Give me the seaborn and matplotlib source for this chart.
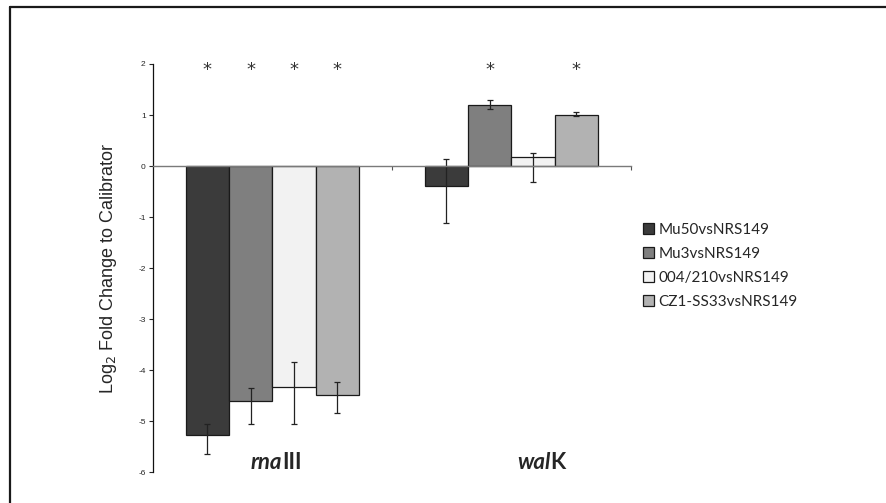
import numpy as np
import pandas as pd
import matplotlib
matplotlib.use("Agg")
import matplotlib.pyplot as plt
import seaborn as sns
from matplotlib.patches import Patch
from matplotlib.lines import Line2D

genes = ["rnaIII", "walK"]
strains = ["Mu50vsNRS149", "Mu3vsNRS149", "004/210vsNRS149", "CZ1-SS33vsNRS149"]
colors = ["#3b3b3b", "#7f7f7f", "#f2f2f2", "#b2b2b2"]

# log2 fold change, one list per strain: [rnaIII, walK]
mu50 = [-5.26, -0.40]
mu3 = [-4.61, 1.19]
s004 = [-4.32, 0.17]
cz1 = [-4.48, 1.01]

# error bar ends (upper, lower)
mu50_err = [[-5.06, -5.65], [0.14, -1.11]]
mu3_err = [[-4.35, -5.06], [1.29, 1.12]]
s004_err = [[-3.84, -5.06], [0.26, -0.32]]
cz1_err = [[-4.24, -4.84], [1.06, 0.98]]

# significance stars (strain index per gene)
stars = {"rnaIII": [0, 1, 2, 3], "walK": [1, 3]}

values = [mu50, mu3, s004, cz1]
errs = [mu50_err, mu3_err, s004_err, cz1_err]

df = pd.DataFrame({
    "gene": genes * len(strains),
    "strain": [s for s in strains for _ in genes],
    "value": [v for vals in values for v in vals],
})

sns.set_style("white")
fig = plt.figure(figsize=(8.86, 5.03), dpi=100)
ax = fig.add_axes([0.1723, 0.0610, 0.5396, 0.8118])

sns.barplot(data=df, x="gene", y="value", hue="strain", hue_order=strains,
            order=genes, palette=colors, width=0.725, errorbar=None,
            edgecolor="#1a1a1a", linewidth=0.9, saturation=1, legend=False, ax=ax)

bar_groups = list(ax.containers)
for i, cont in enumerate(bar_groups):
    for j, bar in enumerate(cont.patches):
        xc = bar.get_x() + bar.get_width() / 2
        hi, lo = errs[i][j]
        v = values[i][j]
        ax.errorbar(xc, v, yerr=[[v - lo], [hi - v]], fmt="none",
                    ecolor="#222222", elinewidth=0.9, capsize=2.5, capthick=0.9)
        if i in stars[genes[j]]:
            ax.text(xc, 1.88, "*", ha="center", va="center", fontsize=13,
                    color="#333333", family="DejaVu Sans")

ax.set_ylim(-6, 2)
ax.set_xlim(-0.5, 1.5)
ax.set_yticks(range(-6, 3))
ax.set_yticklabels([str(t) for t in range(-6, 3)], fontsize=6, family="Liberation Sans")
ax.set_xticks([0.5, 1.5])
ax.set_xticklabels([])
ax.tick_params(axis="y", direction="out", length=3, width=0.8, pad=2, left=True)
ax.tick_params(axis="x", direction="out", length=3, width=0.8, bottom=True,
               color="#555555")
ax.spines["bottom"].set_position(("data", 0))
ax.spines["bottom"].set_color("#7a7a7a")
ax.spines["bottom"].set_linewidth(1.0)
ax.spines["left"].set_color("#111111")
ax.spines["left"].set_linewidth(0.9)
ax.spines["top"].set_visible(False)
ax.spines["right"].set_visible(False)
ax.set_xlabel("")
ax.set_ylabel(r"Log$_2$ Fold Change to Calibrator", fontsize=13,
              family="Liberation Sans", labelpad=14)

# gene labels: italic part + roman part
lab_y = -5.8
ax.text(0.041, lab_y, "rna", ha="right", va="center", fontsize=16,
        fontweight="bold", style="italic", family="Lato")
ax.text(0.041, lab_y, "III", ha="left", va="center", fontsize=16,
        fontweight="bold", family="Lato")
ax.text(1.164, lab_y, "wal", ha="right", va="center", fontsize=16,
        fontweight="bold", style="italic", family="Lato")
ax.text(1.164, lab_y, "K", ha="left", va="center", fontsize=16,
        fontweight="bold", family="Lato")

handles = [Patch(facecolor=c, edgecolor="#1a1a1a", linewidth=0.9) for c in colors]
fig.legend(handles, strains, loc="upper left", bbox_to_anchor=(0.7257, 0.557),
           frameon=False, prop={"family": "Lato", "size": 11},
           handlelength=0.7, handleheight=0.7, handletextpad=0.3,
           labelspacing=0.65, borderpad=0, borderaxespad=0)

# outer frame (top and left edges visible)
fig.add_artist(Line2D([0.0113, 1.0], [0.986, 0.986], transform=fig.transFigure,
                      color="#1a1a1a", linewidth=1.6))
fig.add_artist(Line2D([0.0113, 0.0113], [0.0, 0.986], transform=fig.transFigure,
                      color="#1a1a1a", linewidth=1.6))

fig.savefig("out.png", dpi=100)
